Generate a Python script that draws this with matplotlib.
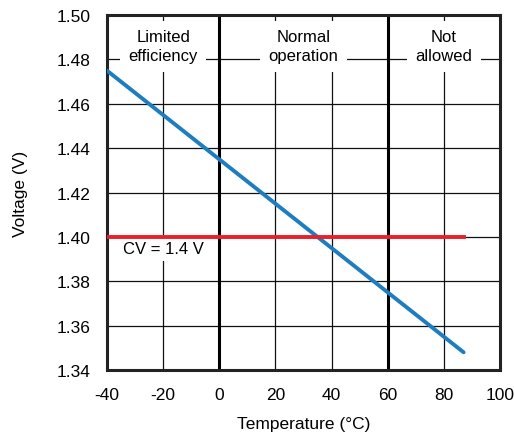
import matplotlib
matplotlib.use("Agg")
import matplotlib.pyplot as plt
import numpy as np

plt.rcParams['font.family'] = ['Liberation Sans', 'DejaVu Sans']

temp_line = [-40, 87]
voltage_line = [1.475, 1.348]
cv_temp = [-40, 87]
cv_value = [1.40, 1.40]
region_bounds = [0, 60]
region_labels = ["Limited\nefficiency", "Normal\noperation", "Not\nallowed"]
region_label_x = [-20, 30, 80]
xticks = [-40, -20, 0, 20, 40, 60, 80, 100]
yticks = [1.34, 1.36, 1.38, 1.40, 1.42, 1.44, 1.46, 1.48, 1.50]

fig = plt.figure(figsize=(5.14, 4.35), dpi=100)
ax = fig.add_axes([0.208, 0.147, 0.765, 0.816])
ax.set_xlim(-40, 100)
ax.set_ylim(1.34, 1.50)
ax.set_xticks(xticks)
ax.set_yticks(yticks)
ax.set_xticklabels([str(t) for t in xticks])
ax.set_yticklabels([f"{t:.2f}" for t in yticks])
ax.tick_params(length=0, labelsize=12.5, pad=12)
ax.grid(True, color='#111111', linewidth=0.9, zorder=0)
ax.set_axisbelow(True)
for s in ax.spines.values():
    s.set_linewidth(2.2)
    s.set_color('#222222')
for b in region_bounds:
    ax.axvline(b, color='black', linewidth=2.2, zorder=1)

for lab, x in zip(region_labels, region_label_x):
    ax.text(x, 1.486, lab, ha='center', va='center', fontsize=12,
            linespacing=1.35,
            bbox=dict(facecolor='white', edgecolor='none', pad=6), zorder=3)

ax.plot(temp_line, voltage_line, color='#1b7dc2', linewidth=2.8, zorder=4, solid_capstyle='round')
ax.plot(cv_temp, cv_value, color='#e8202a', linewidth=2.8, zorder=4)
ax.text(-20, 1.3948, "CV = 1.4 V", ha='center', va='center', fontsize=12,
        bbox=dict(facecolor='white', edgecolor='none', pad=4), zorder=3)

ax.set_xlabel("Temperature (°C)", fontsize=12.5, labelpad=10)
ax.set_ylabel("Voltage (V)", fontsize=12.5, labelpad=20)

fig.savefig("out.png", dpi=100)
